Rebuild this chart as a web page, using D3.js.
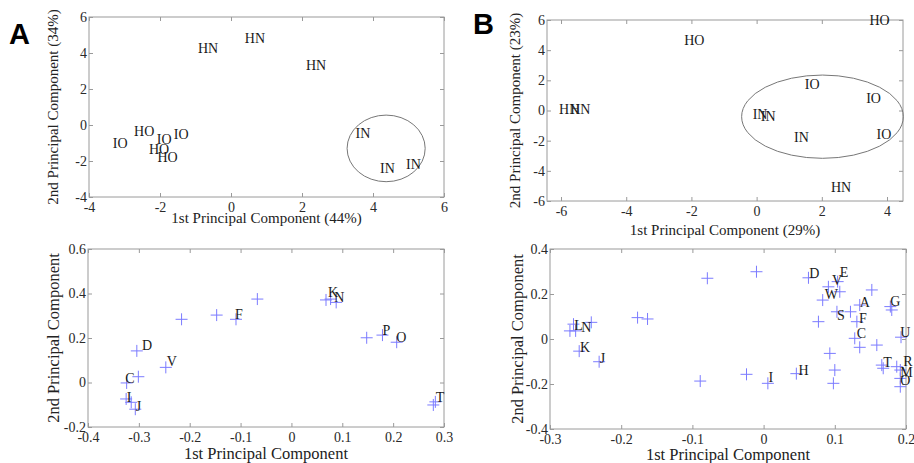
<!DOCTYPE html>
<html><head><meta charset="utf-8">
<script src="https://cdn.jsdelivr.net/npm/d3@7"></script>
<style>
html,body{margin:0;padding:0;background:#fff;}
svg text{font-family:"Liberation Serif","Times New Roman",serif;}
</style></head>
<body>
<svg id="chart" width="914" height="463"></svg>
<script>
// ---------- Panel A (top): sample scores ----------
const aTopLabels = ["HN","HN","HN","IO","HO","IO","IO","HO","HO","IN","IN","IN"];
const aTopX = [-0.93, 0.39, 2.11, -3.33, -2.73, -2.09, -1.61, -2.31, -2.07, 3.51, 4.20, 4.93];
const aTopY = [4.28, 4.83, 3.33, -0.98, -0.32, -0.79, -0.50, -1.33, -1.79, -0.46, -2.37, -2.17];
const aTopEllipse = [4.37, -1.30, 1.10, 1.85]; // cx, cy, rx, ry (data units)
const aTopXTicks = [-4, -2, 0, 2, 4, 6];
const aTopYTicks = [-4, -2, 0, 2, 4, 6];

// ---------- Panel B (top): sample scores ----------
const bTopLabels = ["HO","HO","HN","HN","IN","IN","IO","IO","IO","IN","HN"];
const bTopX = [-2.22, 3.46, -6.06, -5.72, -0.12, 0.13, 1.48, 3.36, 3.68, 1.15, 2.28];
const bTopY = [4.67, 6.00, 0.10, 0.10, -0.23, -0.37, 1.74, 0.81, -1.56, -1.74, -5.05];
const bTopEllipse = [2.02, -0.41, 2.48, 2.76];
const bTopXTicks = [-6, -4, -2, 0, 2, 4];
const bTopYTicks = [-6, -4, -2, 0, 2, 4, 6];

// ---------- Panel A (bottom): loadings ----------
const aBotX = [-0.216,-0.147,-0.109,-0.067,0.068,0.077,0.088,0.148,0.179,0.207,0.279,0.283,-0.304,-0.247,-0.301,-0.324,-0.325,-0.315,-0.307];
const aBotY = [0.284,0.303,0.284,0.375,0.371,0.375,0.360,0.201,0.213,0.181,-0.101,-0.087,0.142,0.068,0.026,-0.002,-0.074,-0.089,-0.120];
const aBotLabels = ["F","K","N","P","O","T","D","V","C","I","J"];
const aBotLabelX = [-0.111,0.072,0.084,0.179,0.206,0.284,-0.294,-0.245,-0.327,-0.324,-0.306];
const aBotLabelY = [0.306,0.408,0.386,0.236,0.203,-0.067,0.169,0.094,0.019,-0.064,-0.106];
const aBotXTicks = [-0.4,-0.3,-0.2,-0.1,0,0.1,0.2,0.3];
const aBotYTicks = [-0.2,0,0.2,0.4,0.6];

// ---------- Panel B (bottom): loadings ----------
const bBotX = [-0.079,-0.010,-0.177,-0.163,-0.267,-0.272,-0.264,-0.242,-0.259,-0.231,-0.089,-0.024,0.006,0.046,0.063,0.091,0.107,0.083,0.103,0.122,0.152,0.135,0.131,0.077,0.128,0.135,0.159,0.093,0.100,0.098,0.166,0.168,0.178,0.180,0.193,0.187,0.192,0.192,0.192,0.104];
const bBotY = [0.270,0.299,0.095,0.089,0.066,0.036,0.036,0.074,-0.054,-0.101,-0.187,-0.157,-0.197,-0.154,0.272,0.232,0.210,0.173,0.121,0.121,0.218,0.151,0.077,0.077,0.003,-0.037,-0.027,-0.064,-0.138,-0.197,-0.116,-0.130,0.144,0.129,0.008,-0.123,-0.138,-0.175,-0.212,0.255];
const bBotLabels = ["L","N","K","J","I","H","D","E","V","W","S","A","F","C","G","U","T","R","M","O"];
const bBotLabelX = [-0.266,-0.256,-0.258,-0.230,0.007,0.049,0.064,0.107,0.096,0.086,0.103,0.135,0.134,0.131,0.178,0.192,0.168,0.196,0.192,0.192];
const bBotLabelY = [0.062,0.055,-0.034,-0.084,-0.170,-0.138,0.292,0.299,0.262,0.199,0.107,0.166,0.095,0.025,0.169,0.030,-0.101,-0.098,-0.145,-0.182];
const bBotXTicks = [-0.3,-0.2,-0.1,0,0.1,0.2];
const bBotYTicks = [-0.4,-0.2,0,0.2,0.4];

const svg = d3.select("#chart");
const fmt = d => String(+(+d).toFixed(2));
const FRAME = "#9a9a9a", TICKTXT = "#2a2a2a";

function panel(o) {
  const x = d3.scaleLinear().domain(o.xDom).range([o.left, o.right]);
  const y = d3.scaleLinear().domain(o.yDom).range([o.bottom, o.top]);
  const g = svg.append("g");
  // frame
  g.append("rect").attr("x", o.left).attr("y", o.top)
    .attr("width", o.right - o.left).attr("height", o.bottom - o.top)
    .attr("fill", "none").attr("stroke", FRAME).attr("stroke-width", 1);
  const styleAxis = (sel, showText) => {
    sel.select(".domain").remove();
    sel.selectAll(".tick line").attr("stroke", FRAME);
    sel.selectAll(".tick text").attr("fill", TICKTXT).style("font-size", "14px")
      .style("font-family", '"Liberation Serif","Times New Roman",serif')
      .attr("opacity", showText ? 1 : 0);
  };
  g.append("g").attr("transform", `translate(0,${o.bottom})`)
    .call(d3.axisBottom(x).tickValues(o.xTicks).tickFormat(fmt).tickSizeInner(-4).tickSizeOuter(0).tickPadding(5))
    .call(s => styleAxis(s, true));
  g.append("g").attr("transform", `translate(0,${o.top})`)
    .call(d3.axisTop(x).tickValues(o.xTicks).tickFormat("").tickSizeInner(-4).tickSizeOuter(0))
    .call(s => styleAxis(s, false));
  g.append("g").attr("transform", `translate(${o.left},0)`)
    .call(d3.axisLeft(y).tickValues(o.yTicks).tickFormat(fmt).tickSizeInner(-4).tickSizeOuter(0).tickPadding(2))
    .call(s => styleAxis(s, true));
  g.append("g").attr("transform", `translate(${o.right},0)`)
    .call(d3.axisRight(y).tickValues(o.yTicks).tickFormat("").tickSizeInner(-4).tickSizeOuter(0))
    .call(s => styleAxis(s, false));
  // axis titles
  g.append("text").attr("x", (o.left + o.right) / 2).attr("y", o.xLabelY)
    .attr("text-anchor", "middle").style("font-size", o.labelSize + "px").attr("fill", "#222")
    .text(o.xLabel);
  g.append("text").attr("transform", `translate(${o.yLabelX},${(o.top + o.bottom) / 2}) rotate(-90)`)
    .attr("text-anchor", "middle").style("font-size", o.labelSize + "px").attr("fill", "#222")
    .text(o.yLabel);
  return {g, x, y};
}

function drawEllipse(p, e) {
  p.g.append("ellipse").attr("cx", p.x(e[0])).attr("cy", p.y(e[1]))
    .attr("rx", Math.abs(p.x(e[0] + e[2]) - p.x(e[0])))
    .attr("ry", Math.abs(p.y(e[1] + e[3]) - p.y(e[1])))
    .attr("fill", "none").attr("stroke", "#777").attr("stroke-width", 1);
}
function drawLabels(p, xs, ys, labels) {
  p.g.selectAll(null).data(labels).enter().append("text")
    .attr("x", (d, i) => p.x(xs[i])).attr("y", (d, i) => p.y(ys[i]))
    .attr("dy", "0.35em").style("font-size", "14px").attr("fill", "#1a1a1a")
    .text(d => d);
}
function drawCrosses(p, xs, ys) {
  const r = 6;
  const cg = p.g.selectAll(null).data(xs).enter().append("g")
    .attr("transform", (d, i) => `translate(${p.x(d)},${p.y(ys[i])})`);
  cg.append("line").attr("x1", -r).attr("x2", r).attr("stroke", "#7b7bff").attr("stroke-width", 1);
  cg.append("line").attr("y1", -r).attr("y2", r).attr("stroke", "#7b7bff").attr("stroke-width", 1);
}

// Panel A top
const pA = panel({xDom:[-4,6], yDom:[-4,6], left:89, right:444, top:17, bottom:197,
  xTicks:aTopXTicks, yTicks:aTopYTicks, xLabel:"1st Principal Component (44%)",
  yLabel:"2nd Principal Component (34%)", xLabelY:223, yLabelX:58, labelSize:15});
drawEllipse(pA, aTopEllipse);
drawLabels(pA, aTopX, aTopY, aTopLabels);

// Panel B top
const pB = panel({xDom:[-6.43,4.49], yDom:[-6,6], left:547, right:903, top:20, bottom:201,
  xTicks:bTopXTicks, yTicks:bTopYTicks, xLabel:"1st Principal Component (29%)",
  yLabel:"2nd Principal Component (23%)", xLabelY:235, yLabelX:520, labelSize:15});
drawEllipse(pB, bTopEllipse);
drawLabels(pB, bTopX, bTopY, bTopLabels);

// Panel A bottom
const pC = panel({xDom:[-0.4,0.3], yDom:[-0.2,0.6], left:88, right:444, top:249, bottom:427,
  xTicks:aBotXTicks, yTicks:aBotYTicks, xLabel:"1st Principal Component",
  yLabel:"2nd Principal Component", xLabelY:459, yLabelX:59, labelSize:16.5});
drawCrosses(pC, aBotX, aBotY);
drawLabels(pC, aBotLabelX, aBotLabelY, aBotLabels);

// Panel B bottom
const pD = panel({xDom:[-0.3,0.2], yDom:[-0.4,0.4], left:550, right:906, top:249, bottom:429,
  xTicks:bBotXTicks, yTicks:bBotYTicks, xLabel:"1st Principal Component",
  yLabel:"2nd Principal Component", xLabelY:460, yLabelX:523, labelSize:16.5});
drawCrosses(pD, bBotX, bBotY);
drawLabels(pD, bBotLabelX, bBotLabelY, bBotLabels);

// Panel letters
svg.append("text").attr("x", 9).attr("y", 44).text("A")
  .style("font-family", '"Liberation Sans",Arial,sans-serif').style("font-weight", "bold").style("font-size", "29px");
svg.append("text").attr("x", 473).attr("y", 34).text("B")
  .style("font-family", '"Liberation Sans",Arial,sans-serif').style("font-weight", "bold").style("font-size", "29px");
</script>
</body></html>
